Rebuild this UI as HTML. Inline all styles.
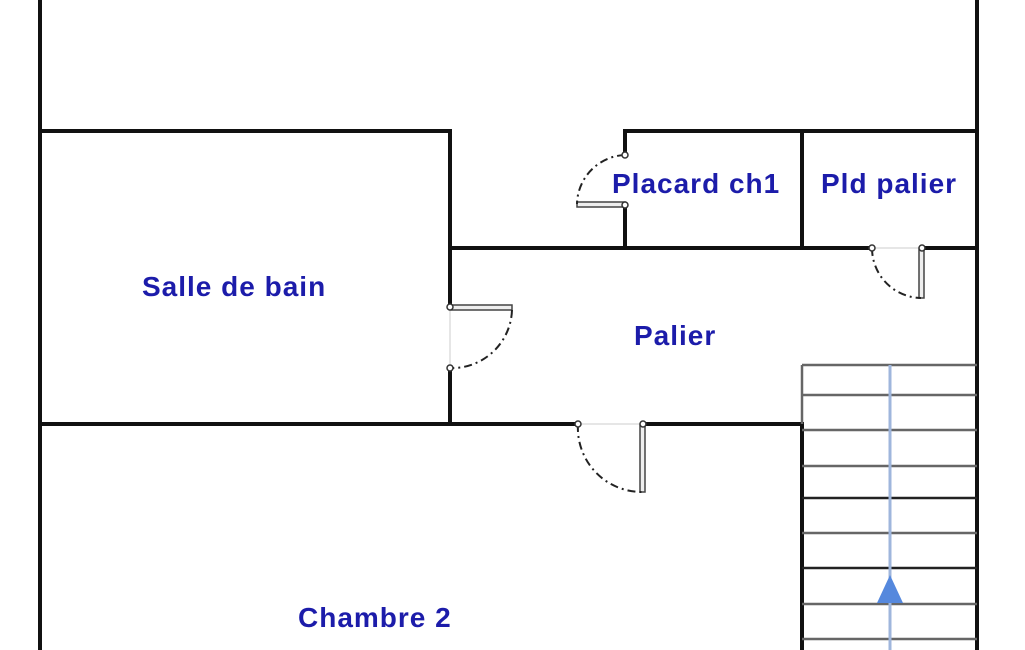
<!DOCTYPE html>
<html><head><style>
html,body{margin:0;padding:0;background:#fff;width:1025px;height:650px;overflow:hidden}
text{font-family:"Liberation Sans",sans-serif;font-weight:bold;fill:#1c1caa;font-size:28px;letter-spacing:1px}
</style></head><body>
<svg width="1025" height="650" viewBox="0 0 1025 650" xmlns="http://www.w3.org/2000/svg">
<g stroke="#111" stroke-width="4" fill="none" stroke-linecap="square">
<line x1="40" y1="0" x2="40" y2="650"/>
<line x1="977" y1="0" x2="977" y2="650"/>
<line x1="40" y1="131" x2="450" y2="131"/>
<line x1="450" y1="131" x2="450" y2="307"/>
<line x1="450" y1="368" x2="450" y2="424"/>
<line x1="625" y1="131" x2="977" y2="131"/>
<line x1="625" y1="131" x2="625" y2="155"/>
<line x1="625" y1="205" x2="625" y2="248"/>
<line x1="802" y1="131" x2="802" y2="248"/>
<line x1="450" y1="248" x2="872" y2="248"/>
<line x1="922" y1="248" x2="977" y2="248"/>
<line x1="40" y1="424" x2="578" y2="424"/>
<line x1="643" y1="424" x2="802" y2="424"/>
<line x1="802" y1="424" x2="802" y2="650"/>
</g>
<g stroke="#444" stroke-width="1.5" fill="#eee">
<rect x="577" y="202" width="48" height="5"/>
<rect x="450" y="305" width="62" height="5"/>
<rect x="640" y="424" width="5" height="68"/>
<rect x="919" y="248" width="5" height="50"/>
</g>
<g stroke="#222" stroke-width="2" fill="none" stroke-dasharray="8 4 2 4">
<path d="M625 155 A50 50 0 0 0 577 204"/>
<path d="M512 310 A60 60 0 0 1 450 368"/>
<path d="M578 424 A64 64 0 0 0 642 492"/>
<path d="M872 248 A50 50 0 0 0 921 298"/>
</g>
<g stroke="#ccc" stroke-width="1">
<line x1="450" y1="310" x2="450" y2="368"/>
<line x1="578" y1="424" x2="643" y2="424"/>
<line x1="872" y1="248" x2="922" y2="248"/>
</g>
<g fill="#fff" stroke="#333" stroke-width="1.5">
<circle cx="625" cy="155" r="3"/><circle cx="625" cy="205" r="3"/>
<circle cx="450" cy="307" r="3"/><circle cx="450" cy="368" r="3"/>
<circle cx="578" cy="424" r="3"/><circle cx="643" cy="424" r="3"/>
<circle cx="872" cy="248" r="3"/><circle cx="922" cy="248" r="3"/>
</g>
<g stroke="#666" stroke-width="2.5">
<line x1="802" y1="365" x2="977" y2="365"/>
<line x1="802" y1="365" x2="802" y2="424"/>
<line x1="802" y1="395" x2="977" y2="395"/>
<line x1="802" y1="430" x2="977" y2="430"/>
<line x1="802" y1="466" x2="977" y2="466"/>
<line x1="802" y1="498" x2="977" y2="498" stroke="#222"/>
<line x1="802" y1="533" x2="977" y2="533"/>
<line x1="802" y1="568" x2="977" y2="568" stroke="#222"/>
<line x1="802" y1="604" x2="977" y2="604"/>
<line x1="802" y1="639" x2="977" y2="639"/>
</g>
<line x1="890" y1="365" x2="890" y2="650" stroke="#9fb6dc" stroke-width="3"/>
<polygon points="890,575 877,603 903,603" fill="#5588dd"/>
<text x="142" y="296">Salle de bain</text>
<text x="612" y="193">Placard ch1</text>
<text x="821" y="193">Pld palier</text>
<text x="634" y="345">Palier</text>
<text x="298" y="627">Chambre 2</text>
</svg>
</body></html>
